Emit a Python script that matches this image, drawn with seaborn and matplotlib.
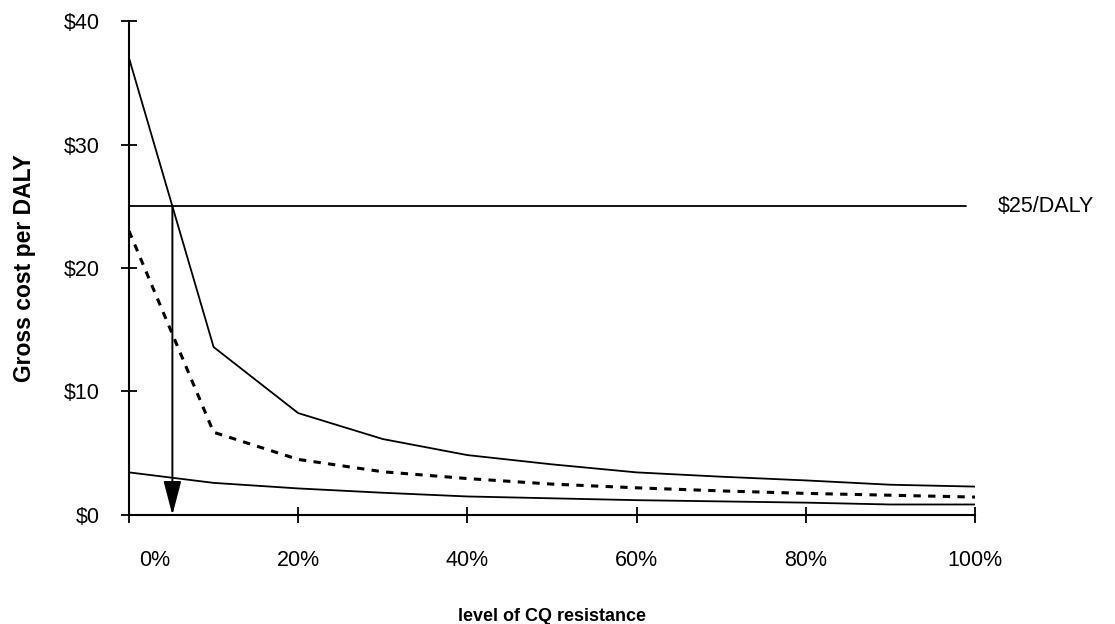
import matplotlib
matplotlib.use("Agg")
import matplotlib.pyplot as plt
import matplotlib.transforms as mtransforms
import numpy as np
import pandas as pd
import seaborn as sns

# CQ resistance levels (%) and gross cost per DALY ($) for each scenario
resistance = [0, 10, 20, 30, 40, 50, 60, 70, 80, 90, 100]
cost_high = [37.0, 13.6, 8.25, 6.15, 4.85, 4.1, 3.45, 3.1, 2.8, 2.45, 2.3]
cost_mid = [23.0, 6.7, 4.5, 3.5, 2.95, 2.5, 2.2, 1.95, 1.75, 1.6, 1.45]
cost_low = [3.45, 2.6, 2.15, 1.8, 1.5, 1.35, 1.2, 1.1, 1.0, 0.85, 0.85]

threshold = 25
threshold_label = "$25/DALY"
x_ticks = [0, 20, 40, 60, 80, 100]
x_tick_labels = ["0%", "20%", "40%", "60%", "80%", "100%"]
y_ticks = [0, 10, 20, 30, 40]
y_tick_labels = ["$0", "$10", "$20", "$30", "$40"]

sns.set_theme(style="white")
plt.rcParams["font.family"] = ["Liberation Sans", "DejaVu Sans"]

df = pd.DataFrame({
    "resistance": resistance * 3,
    "cost": cost_high + cost_mid + cost_low,
    "scenario": ["high"] * 11 + ["mid"] * 11 + ["low"] * 11,
})

fig = plt.figure(figsize=(11.15, 6.24), dpi=100)
ax = fig.add_axes([0.1157, 0.1747, 0.7587, 0.7916])

sns.lineplot(data=df[df.scenario == "high"], x="resistance", y="cost",
             color="black", lw=1.3, ax=ax)
sns.lineplot(data=df[df.scenario == "mid"], x="resistance", y="cost",
             color="black", lw=2.2, ax=ax)
sns.lineplot(data=df[df.scenario == "low"], x="resistance", y="cost",
             color="black", lw=1.3, ax=ax)
ax.lines[1].set_linestyle((0, (2.4, 2.4)))

# threshold line and label
ax.plot([0, 99], [threshold, threshold], color="black", lw=1.3)
ax.text(102.7, threshold, threshold_label, va="center", ha="left",
        fontsize=15.5, color="black", clip_on=False)

# resistance level at which the high-cost curve crosses the threshold
xc = np.interp(threshold, cost_high[1::-1], resistance[1::-1])
ax.annotate("", xy=(xc, 0), xytext=(xc, threshold),
            arrowprops=dict(arrowstyle="-|>,head_length=2.1,head_width=0.55",
                            mutation_scale=10, color="black", lw=1.4,
                            shrinkA=0, shrinkB=0))

ax.set_xlim(0, 100)
ax.set_ylim(0, 40)
ax.set_xticks(x_ticks)
ax.set_xticklabels(x_tick_labels, fontsize=15.5)
ax.set_yticks(y_ticks)
ax.set_yticklabels(y_tick_labels, fontsize=15.5)
ax.tick_params(axis="both", which="major", bottom=True, left=True,
               direction="inout", length=12, width=1.3,
               color="black", labelcolor="black")
ax.tick_params(axis="x", pad=19)
ax.tick_params(axis="y", pad=15)

# nudge the first x label to the right of the axis corner
first = ax.get_xticklabels()[0]
first.set_transform(first.get_transform() +
                    mtransforms.ScaledTranslation(0.26, 0, fig.dpi_scale_trans))

for side in ["top", "right"]:
    ax.spines[side].set_visible(False)
for side in ["left", "bottom"]:
    ax.spines[side].set_color("black")
    ax.spines[side].set_linewidth(1.5)

ax.set_xlabel("level of CQ resistance", fontsize=13, fontweight="bold",
              color="black", labelpad=27)
ax.set_ylabel("Gross cost per DALY", fontsize=16.5, fontweight="bold",
              color="black", labelpad=20)

fig.savefig("out.png", dpi=100, facecolor="white")
